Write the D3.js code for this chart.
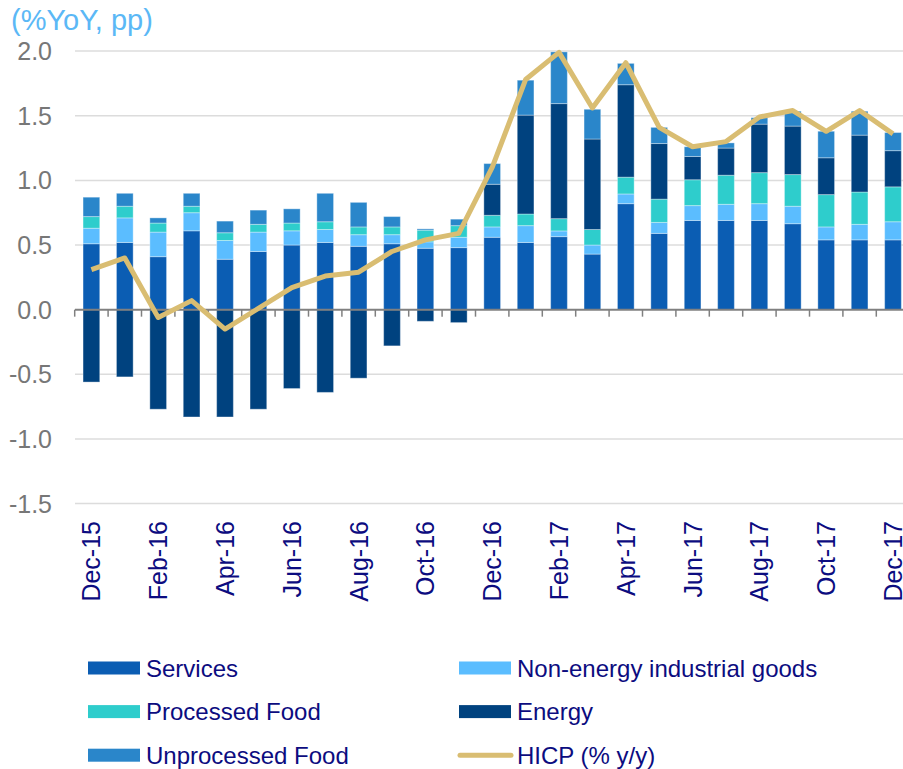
<!DOCTYPE html>
<html>
<head>
<meta charset="utf-8">
<script src="https://cdn.jsdelivr.net/npm/d3@7"></script>
<style>
  body { margin: 0; background: #fff; }
  svg { display: block; font-family: "Liberation Sans", Arial, sans-serif; }
</style>
</head>
<body>
<svg id="chart" width="903" height="769"></svg>
<script>
// months on the x axis
const months = ["Dec-15","Jan-16","Feb-16","Mar-16","Apr-16","May-16","Jun-16","Jul-16","Aug-16","Sep-16","Oct-16","Nov-16",
  "Dec-16","Jan-17","Feb-17","Mar-17","Apr-17","May-17","Jun-17","Jul-17","Aug-17","Sep-17","Oct-17","Nov-17","Dec-17"];

// contributions (pp)
const services = [0.51,0.52,0.41,0.61,0.39,0.45,0.50,0.52,0.49,0.51,0.475,0.48,0.56,0.52,0.565,0.43,0.82,0.59,0.69,0.69,0.69,0.665,0.54,0.54,0.54];
const neig = [0.12,0.19,0.19,0.14,0.145,0.15,0.11,0.10,0.09,0.07,0.05,0.08,0.08,0.13,0.044,0.07,0.075,0.085,0.115,0.125,0.13,0.135,0.10,0.12,0.14];
const processedFood = [0.09,0.09,0.07,0.05,0.06,0.06,0.06,0.06,0.06,0.06,0.09,0.09,0.09,0.09,0.095,0.12,0.13,0.18,0.20,0.225,0.24,0.245,0.25,0.25,0.27];
const energy = [-0.56,-0.52,-0.77,-0.83,-0.83,-0.77,-0.61,-0.64,-0.53,-0.28,-0.09,-0.10,0.24,0.765,0.89,0.70,0.715,0.43,0.18,0.21,0.375,0.375,0.285,0.44,0.28];
const unprocessedFood = [0.15,0.10,0.04,0.10,0.09,0.11,0.11,0.22,0.19,0.08,0.01,0.05,0.16,0.27,0.40,0.23,0.165,0.125,0.075,0.04,0.05,0.115,0.205,0.185,0.14];
// headline HICP (% y/y)
const hicp = [0.31,0.40,-0.06,0.07,-0.15,0.01,0.17,0.26,0.29,0.45,0.54,0.59,1.10,1.78,1.99,1.56,1.91,1.41,1.26,1.30,1.49,1.54,1.38,1.54,1.36];

const yTicks = [2.0,1.5,1.0,0.5,0.0,-0.5,-1.0,-1.5];
const labelMonths = months.filter((d, i) => i % 2 === 0);

const seriesKeys = ["Services","Non-energy industrial goods","Processed Food","Energy","Unprocessed Food"];
const seriesVals = [services, neig, processedFood, energy, unprocessedFood];
const colors = {
  "Services": "#0b5db3",
  "Non-energy industrial goods": "#5bbdff",
  "Processed Food": "#2ecdcc",
  "Energy": "#00427f",
  "Unprocessed Food": "#2a86ca"
};
const lineColor = "#d9bd72";
const textColor = "#0c0c80";

const rows = months.map((m, i) => {
  const r = { month: m };
  seriesKeys.forEach((k, j) => r[k] = seriesVals[j][i]);
  return r;
});

const svg = d3.select("#chart");

const x = d3.scaleBand()
  .domain(months)
  .range([74.7, 909.7])
  .paddingInner(0.5)
  .paddingOuter(0.25);

const y = d3.scaleLinear()
  .domain([-1.5, 2.0])
  .range([503.6, 51.1]);

// title
svg.append("text")
  .attr("x", 11)
  .attr("y", 30)
  .attr("fill", "#5bb8f6")
  .style("font-size", "29px")
  .text("(%YoY, pp)");

// gridlines
svg.append("g")
  .selectAll("line")
  .data(yTicks.filter(d => d !== 0))
  .join("line")
  .attr("x1", 75)
  .attr("x2", 903)
  .attr("y1", d => y(d))
  .attr("y2", d => y(d))
  .attr("stroke", "#dcdcdc")
  .attr("stroke-width", 1.5);

// y tick labels (plain hyphen for minus, as in the original)
svg.append("g")
  .selectAll("text")
  .data(yTicks)
  .join("text")
  .attr("x", 52)
  .attr("y", d => y(d))
  .attr("dy", "0.36em")
  .attr("text-anchor", "end")
  .attr("fill", "#777")
  .style("font-size", "25px")
  .text(d => d.toFixed(1));

// stacked bars
const stack = d3.stack()
  .keys(seriesKeys)
  .offset(d3.stackOffsetDiverging);
const stacked = stack(rows);

svg.append("g")
  .selectAll("g")
  .data(stacked)
  .join("g")
  .attr("fill", d => colors[d.key])
  .selectAll("rect")
  .data(d => d)
  .join("rect")
  .attr("x", d => x(d.data.month))
  .attr("width", x.bandwidth())
  .attr("y", d => y(Math.max(d[0], d[1])))
  .attr("height", d => Math.abs(y(d[0]) - y(d[1])))
  .attr("stroke", "rgba(255,255,255,0.35)")
  .attr("stroke-width", 1);

// zero axis with tick marks at category boundaries
const step = x.step();
const bounds = months.map(m => x(m) - step * 0.25).concat([x(months[months.length - 1]) + step * 0.75]);
svg.append("line")
  .attr("x1", 75)
  .attr("x2", 903)
  .attr("y1", y(0))
  .attr("y2", y(0))
  .attr("stroke", "#808080")
  .attr("stroke-width", 2);
svg.append("g")
  .selectAll("line")
  .data(bounds)
  .join("line")
  .attr("x1", d => d)
  .attr("x2", d => d)
  .attr("y1", y(0))
  .attr("y2", y(0) + 7)
  .attr("stroke", "#808080")
  .attr("stroke-width", 1.5);

// HICP line
svg.append("path")
  .datum(months.map((m, i) => [x(m) + x.bandwidth() / 2, hicp[i]]))
  .attr("fill", "none")
  .attr("stroke", lineColor)
  .attr("stroke-width", 5)
  .attr("stroke-linejoin", "round")
  .attr("d", d3.line().x(d => d[0]).y(d => y(d[1])));

// x labels (every other month), rotated
svg.append("g")
  .selectAll("text")
  .data(labelMonths)
  .join("text")
  .attr("transform", d => `translate(${x(d) + x.bandwidth() / 2 + 9},521) rotate(-90)`)
  .attr("text-anchor", "end")
  .attr("fill", textColor)
  .style("font-size", "25px")
  .text(d => d);

// legend
const legendItems = [
  { key: "Services", col: 0, row: 0 },
  { key: "Non-energy industrial goods", col: 1, row: 0 },
  { key: "Processed Food", col: 0, row: 1 },
  { key: "Energy", col: 1, row: 1 },
  { key: "Unprocessed Food", col: 0, row: 2 },
  { key: "HICP (% y/y)", col: 1, row: 2, line: true }
];
const legend = svg.append("g")
  .selectAll("g")
  .data(legendItems)
  .join("g")
  .attr("transform", d => `translate(${d.col === 0 ? 88 : 459},${668 + d.row * 43.6})`);

legend.filter(d => !d.line)
  .append("rect")
  .attr("x", 0)
  .attr("y", -6.5)
  .attr("width", 52)
  .attr("height", 13)
  .attr("fill", d => colors[d.key]);

legend.filter(d => d.line)
  .append("line")
  .attr("x1", 1)
  .attr("x2", 52)
  .attr("y1", 0)
  .attr("y2", 0)
  .attr("stroke", lineColor)
  .attr("stroke-width", 5)
  .attr("stroke-linecap", "round");

legend.append("text")
  .attr("x", 58)
  .attr("y", 0)
  .attr("dy", "0.36em")
  .attr("fill", textColor)
  .style("font-size", "24px")
  .text(d => d.key);
</script>
</body>
</html>
